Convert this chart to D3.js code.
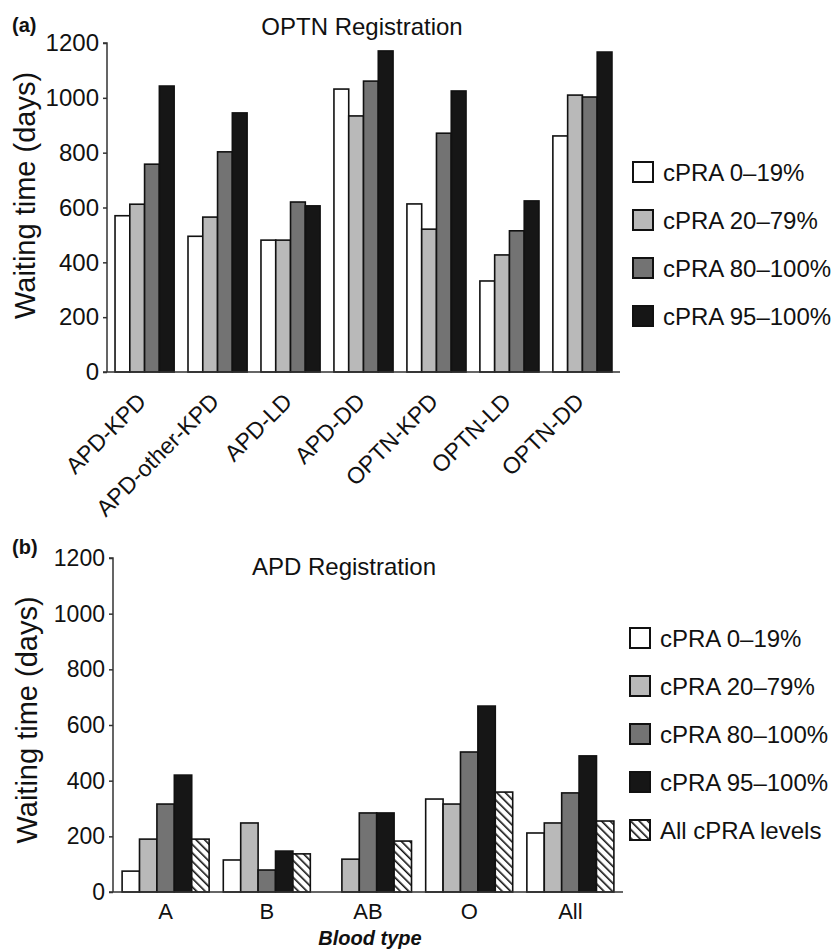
<!DOCTYPE html>
<html>
<head>
<meta charset="utf-8">
<script src="https://cdn.jsdelivr.net/npm/d3@7"></script>
<style>
  body { margin: 0; background: #fff; }
  svg { display: block; font-family: "Liberation Sans", Arial, sans-serif; }
</style>
</head>
<body>
<svg id="chart" width="838" height="951"></svg>
<script>
// panel (a): OPTN registration
var groupsA = ['APD-KPD', 'APD-other-KPD', 'APD-LD', 'APD-DD', 'OPTN-KPD', 'OPTN-LD', 'OPTN-DD']
var seriesA = ['cPRA 0\u201319%', 'cPRA 20\u201379%', 'cPRA 80\u2013100%', 'cPRA 95\u2013100%']
var cpra0_19A = [570, 495, 481, 1032, 613, 332, 861]
var cpra20_79A = [612, 565, 481, 934, 521, 427, 1010]
var cpra80_100A = [758, 803, 620, 1061, 871, 515, 1003]
var cpra95_100A = [1043, 945, 606, 1171, 1025, 624, 1167]

// panel (b): APD registration by blood type
var groupsB = ['A', 'B', 'AB', 'O', 'All']
var seriesB = ['cPRA 0\u201319%', 'cPRA 20\u201379%', 'cPRA 80\u2013100%', 'cPRA 95\u2013100%', 'All cPRA levels']
var cpra0_19B = [75, 115, 0, 334, 212]
var cpra20_79B = [190, 248, 118, 316, 248]
var cpra80_100B = [316, 79, 284, 503, 356]
var cpra95_100B = [420, 147, 284, 668, 489]
var allLevelsB = [190, 137, 183, 359, 255]

var yTicks = [0, 200, 400, 600, 800, 1000, 1200]
var fills = ['#ffffff', '#b9b9b9', '#737373', '#161616', 'url(#hatch)']

var svg = d3.select('#chart')

/* diagonal hatch for "All cPRA levels", running top-left to bottom-right */
var pat = svg.append('defs').append('pattern')
	.attr('id', 'hatch')
	.attr('patternUnits', 'userSpaceOnUse')
	.attr('width', 6).attr('height', 6)
	.attr('patternTransform', 'rotate(-45)')
pat.append('rect').attr('width', 6).attr('height', 6).attr('fill', '#fff')
pat.append('line').attr('x1', 0).attr('y1', 0).attr('x2', 0).attr('y2', 6)
	.attr('stroke', '#111').attr('stroke-width', 3.2)

/**
 * Draws one grouped bar panel with its axes and legend
 */
function drawPanel(opt) {
	var g = svg.append('g')
	var x0 = d3.scaleBand().domain(opt.groups).range([opt.left, opt.right])
		.paddingInner(opt.padIn).paddingOuter(opt.padOut)
	var x1 = d3.scaleBand().domain(d3.range(opt.series.length)).range([0, x0.bandwidth()])
	var y = d3.scaleLinear().domain([0, 1200]).range([opt.bottom, opt.top])

	var rows = []
	opt.groups.forEach(function(grp, i) {
		opt.values.forEach(function(vals, s) {
			rows.push({ group: grp, s: s, v: vals[i] })
		})
	})

	g.selectAll('rect.bar').data(rows.filter(function(d) { return d.v > 0 }))
		.enter().append('rect')
		.attr('class', 'bar')
		.attr('x', function(d) { return x0(d.group) + x1(d.s) })
		.attr('y', function(d) { return y(d.v) })
		.attr('width', x1.bandwidth())
		.attr('height', function(d) { return y(0) - y(d.v) })
		.attr('fill', function(d) { return fills[d.s] })
		.attr('stroke', '#111')
		.attr('stroke-width', 1.6)

	/* y axis */
	var yAxis = g.append('g')
		.attr('transform', 'translate(' + opt.left + ',0)')
		.attr('font-family', null)
		.call(d3.axisLeft(y).tickValues(yTicks).tickSize(4).tickPadding(4).tickFormat(d3.format('d')))
	yAxis.attr('font-family', '"Liberation Sans", Arial, sans-serif').attr('font-size', opt.tickSize)
	yAxis.select('.domain').attr('d', 'M-4,' + y(1200) + 'H0V' + y(0)).attr('stroke', '#333').attr('stroke-width', 1.5)
	yAxis.selectAll('.tick line').attr('stroke', '#333').attr('stroke-width', 1.5)
	yAxis.selectAll('.tick text').attr('font-size', opt.tickSize).attr('fill', '#111')

	/* x axis line */
	g.append('line')
		.attr('x1', opt.left - 4).attr('x2', opt.right)
		.attr('y1', y(0)).attr('y2', y(0))
		.attr('stroke', '#333').attr('stroke-width', 1.5)

	/* y axis title */
	g.append('text')
		.attr('transform', 'translate(' + opt.yTitleX + ',' + ((y(0) + y(1200)) / 2 + opt.yTitleShift) + ') rotate(-90)')
		.attr('text-anchor', 'middle')
		.attr('font-size', 29)
		.attr('fill', '#111')
		.text('Waiting time (days)')

	/* panel title and letter */
	g.append('text').attr('x', opt.titleX).attr('y', opt.titleY)
		.attr('text-anchor', 'middle').attr('font-size', 24).attr('fill', '#111')
		.text(opt.title)
	g.append('text').attr('x', 12).attr('y', opt.letterY)
		.attr('font-size', 20).attr('font-weight', 'bold').attr('fill', '#111')
		.text(opt.letter)

	/* legend */
	var leg = g.selectAll('g.legend').data(opt.series).enter().append('g')
		.attr('class', 'legend')
		.attr('transform', function(d, i) { return 'translate(' + opt.legX + ',' + (opt.legY + i * 48) + ')' })
	leg.append('rect')
		.attr('x', 0).attr('y', -10).attr('width', 20).attr('height', 20)
		.attr('fill', function(d, i) { return fills[i] })
		.attr('stroke', '#111').attr('stroke-width', 2)
	leg.append('text')
		.attr('x', 30).attr('y', 9)
		.attr('font-size', 24).attr('fill', '#111')
		.text(function(d) { return d })

	return { g: g, x0: x0, y: y }
}

var pa = drawPanel({
	groups: groupsA, series: seriesA,
	values: [cpra0_19A, cpra20_79A, cpra80_100A, cpra95_100A],
	left: 107, right: 620, top: 43, bottom: 372,
	padIn: 0.19, padOut: 0.11, tickSize: 24,
	yTitleX: 35, yTitleShift: -12,
	title: 'OPTN Registration', titleX: 362, titleY: 35,
	letter: '(a)', letterY: 32,
	legX: 633, legY: 172
})

/* rotated category labels for panel (a) */
pa.g.selectAll('text.cat').data(groupsA).enter().append('text')
	.attr('class', 'cat')
	.attr('transform', function(d) { return 'translate(' + (pa.x0(d) + pa.x0.bandwidth() / 2 + 3) + ',' + 403 + ') rotate(-45)' })
	.attr('text-anchor', 'end')
	.attr('font-size', 23)
	.attr('fill', '#111')
	.text(function(d) { return d })

var pb = drawPanel({
	groups: groupsB, series: seriesB,
	values: [cpra0_19B, cpra20_79B, cpra80_100B, cpra95_100B, allLevelsB],
	left: 113, right: 623, top: 558, bottom: 892,
	padIn: 0.14, padOut: 0.09, tickSize: 23,
	yTitleX: 37, yTitleShift: -5,
	title: 'APD Registration', titleX: 344, titleY: 575,
	letter: '(b)', letterY: 554,
	legX: 630, legY: 638
})

pb.g.selectAll('text.cat').data(groupsB).enter().append('text')
	.attr('class', 'cat')
	.attr('x', function(d) { return pb.x0(d) + pb.x0.bandwidth() / 2 })
	.attr('y', 919)
	.attr('text-anchor', 'middle')
	.attr('font-size', 22)
	.attr('fill', '#111')
	.text(function(d) { return d })

pb.g.append('text')
	.attr('x', 370).attr('y', 945)
	.attr('text-anchor', 'middle')
	.attr('font-size', 20).attr('font-weight', 'bold').attr('font-style', 'italic')
	.attr('fill', '#111')
	.text('Blood type')
</script>
</body>
</html>
